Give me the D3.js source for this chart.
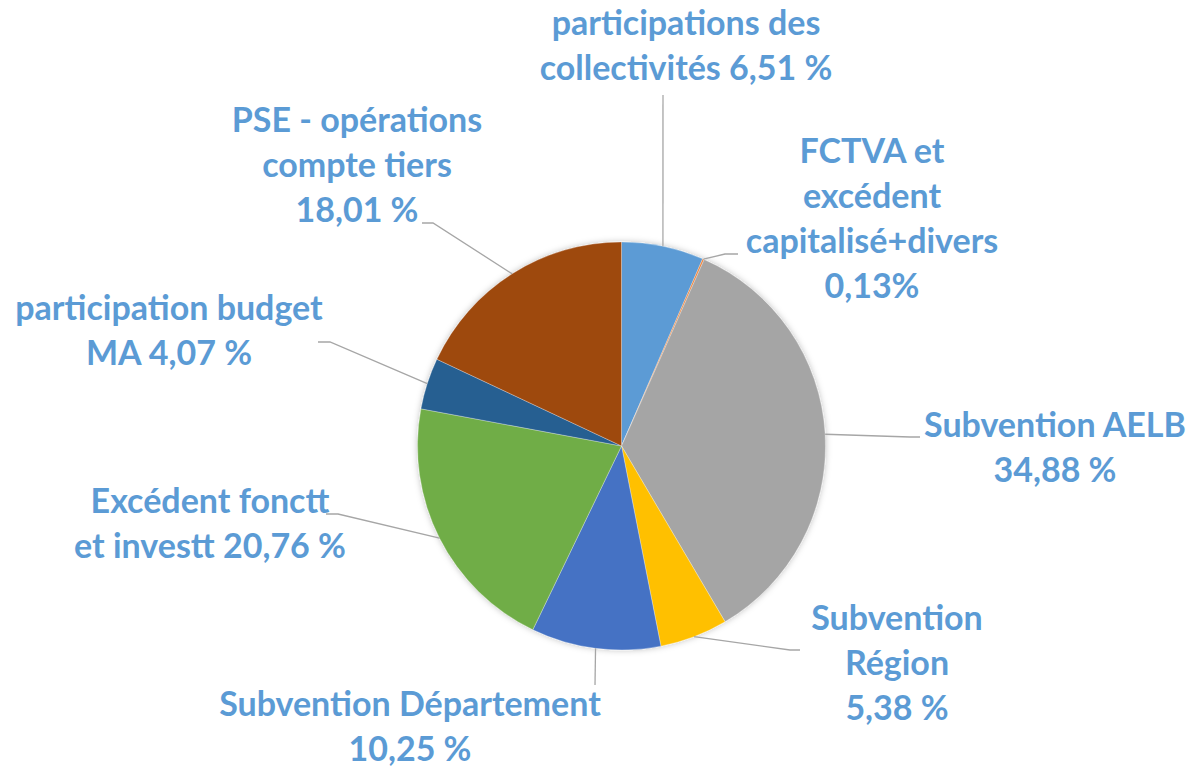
<!DOCTYPE html>
<html>
<head>
<meta charset="utf-8">
<script src="https://cdn.jsdelivr.net/npm/d3@7"></script>
<style>
    body { margin: 0; background: #fff; }
    svg { display: block; }
    .label { font-family: Lato, "Noto Sans", sans-serif; font-weight: bold; fill: #5B9BD5; }
</style>
</head>
<body>
<svg id="chart"></svg>
<script>
// slices, clockwise from 12 o'clock
const categories = [
    "participations des collectivités",
    "FCTVA et excédent capitalisé+divers",
    "Subvention AELB",
    "Subvention Région",
    "Subvention Département",
    "Excédent fonctt et investt",
    "participation budget MA",
    "PSE - opérations compte tiers"
];
const shares = [6.51, 0.13, 34.88, 5.38, 10.25, 20.76, 4.07, 18.01];
const labelLines = [
    ["participations des", "collectivités 6,51 %"],
    ["FCTVA et", "excédent", "capitalisé+divers", "0,13%"],
    ["Subvention AELB", "34,88 %"],
    ["Subvention", "Région", "5,38 %"],
    ["Subvention Département", "10,25 %"],
    ["Excédent fonctt", "et investt 20,76 %"],
    ["participation budget", "MA 4,07 %"],
    ["PSE - opérations", "compte tiers", "18,01 %"]
];
const colors = ["#5B9BD5", "#ED7D31", "#A5A5A5", "#FFC000", "#4472C4", "#70AD47", "#255E91", "#9E480E"];

// label placement: text centre x, first baseline y, and leader line points after the arc edge
const layout = [
    {x: 686, y: 35, leader: [[663, 95]]},
    {x: 872, y: 163, leader: [[725, 254], [738, 254]]},
    {x: 1055, y: 437, leader: [[910, 437], [920, 437]]},
    {x: 897, y: 630, leader: [[790, 650], [800, 650]]},
    {x: 410, y: 716, leader: [[595, 685]]},
    {x: 210, y: 513, leader: [[338, 514], [326, 514]]},
    {x: 169, y: 320, leader: [[330, 342], [318, 342]]},
    {x: 357, y: 132, leader: [[433, 223], [422, 223]]}
];

const width = 1191, height = 768;
const cx = 621.5, cy = 446, radius = 204;
const lineHeight = 45;

const svg = d3.select("#chart")
    .attr("width", width)
    .attr("height", height);

const defs = svg.append("defs");
const shadow = defs.append("filter")
    .attr("id", "shadow")
    .attr("x", "-10%").attr("y", "-10%")
    .attr("width", "120%").attr("height", "120%");
shadow.append("feDropShadow")
    .attr("dx", 0).attr("dy", 0)
    .attr("stdDeviation", 3)
    .attr("flood-color", "#000")
    .attr("flood-opacity", 0.25);

const data = categories.map((c, i) => ({name: c, value: shares[i], color: colors[i], lines: labelLines[i], pos: layout[i]}));

const pie = d3.pie()
    .value(d => d.value)
    .sort(null);

const arc = d3.arc()
    .innerRadius(0)
    .outerRadius(radius);

const arcs = pie(data);

const g = svg.append("g")
    .attr("transform", `translate(${cx},${cy})`);

g.append("g")
    .attr("filter", "url(#shadow)")
    .selectAll("path")
    .data(arcs)
    .join("path")
    .attr("d", arc)
    .attr("fill", d => d.data.color)
    .attr("stroke", "#fff")
    .attr("stroke-width", 0.3);

// leader lines, starting at the middle of each slice's outer edge
const edgePoint = d => {
    const a = (d.startAngle + d.endAngle) / 2;
    return [cx + radius * Math.sin(a), cy - radius * Math.cos(a)];
};

svg.append("g")
    .selectAll("polyline")
    .data(arcs)
    .join("polyline")
    .attr("points", d => [edgePoint(d), ...d.data.pos.leader].map(p => p.join(",")).join(" "))
    .attr("fill", "none")
    .attr("stroke", "#A6A6A6")
    .attr("stroke-width", 1.3);

const labels = svg.append("g")
    .selectAll("text")
    .data(arcs)
    .join("text")
    .attr("class", "label")
    .attr("text-anchor", "middle")
    .attr("font-size", 34)
    .attr("x", d => d.data.pos.x)
    .attr("y", d => d.data.pos.y);

labels.selectAll("tspan")
    .data(d => d.data.lines.map((l, i) => ({l, i, x: d.data.pos.x})))
    .join("tspan")
    .attr("x", d => d.x)
    .attr("dy", d => d.i === 0 ? 0 : lineHeight)
    .text(d => d.l);
</script>
</body>
</html>
